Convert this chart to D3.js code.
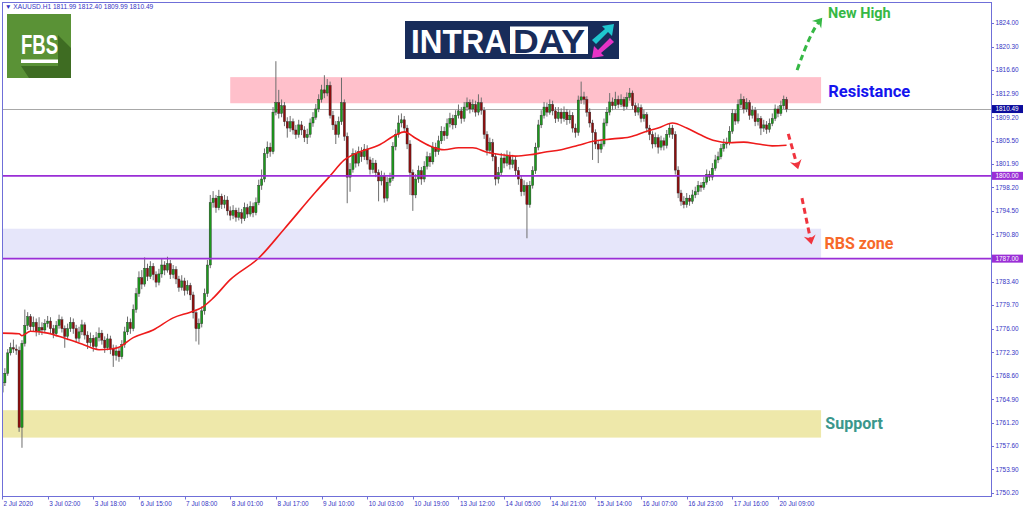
<!DOCTYPE html>
<html>
<head>
<meta charset="utf-8">
<script src="https://cdnjs.cloudflare.com/ajax/libs/d3/7.8.5/d3.min.js"></script>
<style>
  html, body { margin: 0; padding: 0; background: #fff; overflow: hidden; }
  svg { display: block; }
</style>
</head>
<body>
<svg id="chart" width="1024" height="511"></svg>
<script>
// XAUUSD H1, 2 Jul 2020 .. 20 Jul 2020
const SYMBOL = "XAUUSD.H1";
const firstOpen = 1766.0;
const closes = [
  1767.5, 1769.0, 1772.2, 1773.0, 1772.8, 1772.6, 1760.5, 1773.7, 1776.5, 1777.9,
  1776.3, 1777.0, 1775.5, 1776.2, 1775.8, 1776.8, 1777.2, 1776.0, 1775.2, 1776.5,
  1777.4, 1776.0, 1774.8, 1776.0, 1777.0, 1776.0, 1774.5, 1775.5, 1776.6, 1775.0,
  1773.8, 1774.5, 1773.2, 1774.6, 1775.3, 1774.2, 1773.0, 1774.4, 1772.8, 1771.8,
  1772.5, 1771.6, 1773.5, 1775.5, 1777.0, 1776.0, 1779.0, 1781.5, 1784.0, 1783.0,
  1785.5, 1784.2, 1785.8, 1784.5, 1783.3, 1784.6, 1786.0, 1785.2, 1786.2, 1784.5,
  1785.3, 1783.8, 1782.5, 1783.5, 1782.0, 1782.8, 1781.3, 1778.5, 1776.0, 1776.8,
  1778.8, 1781.5, 1786.0, 1795.8, 1796.5, 1795.0, 1796.8, 1795.5, 1796.2, 1794.5,
  1793.8, 1794.6, 1793.5, 1794.2, 1793.3, 1795.0, 1794.0, 1795.2, 1794.2, 1795.8,
  1798.5, 1799.5, 1803.5, 1804.5, 1803.8, 1810.0, 1811.5, 1809.8, 1811.0, 1808.5,
  1807.5, 1808.5, 1807.2, 1806.5, 1808.0, 1807.2, 1806.0, 1806.5, 1808.3, 1809.2,
  1810.5, 1812.0, 1813.5, 1813.0, 1814.2, 1809.5, 1808.0, 1806.5, 1808.5, 1811.5,
  1806.2, 1799.8, 1801.0, 1803.5, 1802.0, 1803.8, 1803.0, 1804.2, 1802.5, 1801.0,
  1802.0, 1800.5, 1799.2, 1800.0, 1796.5, 1799.0, 1799.6, 1804.6, 1806.5, 1808.3,
  1808.8, 1807.5, 1805.0, 1800.5, 1797.0, 1799.5, 1800.8, 1799.5, 1801.5, 1803.0,
  1802.2, 1804.5, 1803.8, 1805.5, 1807.0, 1806.3, 1808.2, 1809.0, 1808.0, 1809.5,
  1810.2, 1809.0, 1810.8, 1811.5, 1810.5, 1811.2, 1810.0, 1811.5, 1810.3, 1806.5,
  1804.0, 1805.2, 1803.0, 1799.5, 1800.5, 1802.8, 1802.0, 1803.2, 1801.8, 1802.5,
  1800.8, 1799.5, 1797.5, 1798.5, 1795.5, 1798.5, 1800.8, 1804.5, 1808.0, 1809.5,
  1810.8, 1810.0, 1811.2, 1810.2, 1809.0, 1810.0, 1809.0, 1810.0, 1808.8, 1809.5,
  1807.5, 1806.8, 1811.9, 1812.4, 1812.0, 1810.0, 1808.3, 1806.8, 1805.0, 1804.2,
  1805.0, 1808.3, 1810.0, 1811.6, 1811.0, 1812.0, 1811.2, 1812.0, 1810.9, 1812.3,
  1813.0, 1811.0, 1810.0, 1810.7, 1809.0, 1809.6, 1807.5, 1806.5, 1805.0, 1806.0,
  1804.5, 1805.5, 1804.8, 1806.5, 1807.5, 1806.5, 1800.9, 1797.3, 1796.0, 1795.5,
  1796.5, 1796.0, 1797.0, 1797.5, 1798.5, 1798.2, 1799.0, 1800.2, 1799.8, 1801.2,
  1802.5, 1803.0, 1804.3, 1805.0, 1805.2, 1807.0, 1809.8, 1808.6, 1811.2, 1812.0,
  1810.5, 1811.5, 1809.5, 1810.3, 1808.5, 1809.0, 1807.5, 1808.0, 1807.3, 1808.2,
  1809.0, 1810.5, 1809.8, 1811.0, 1811.99, 1810.49
];
const highs = [
  1768.5, 1769.8, 1772.8, 1773.8, 1774.3, 1773.5, 1773.2, 1774.2, 1779.0, 1778.6,
  1778.3, 1777.9, 1777.6, 1777.8, 1777.0, 1777.5, 1778.0, 1777.8, 1776.6, 1777.2,
  1778.2, 1777.9, 1776.5, 1776.8, 1777.8, 1777.6, 1776.6, 1776.3, 1777.4, 1777.0,
  1775.6, 1775.4, 1775.0, 1775.5, 1776.2, 1775.8, 1774.8, 1775.2, 1774.9, 1773.5,
  1773.4, 1773.0, 1774.2, 1776.3, 1777.9, 1777.6, 1779.8, 1782.4, 1785.0, 1785.2,
  1787.2, 1786.2, 1786.6, 1786.3, 1785.0, 1785.4, 1787.0, 1786.6, 1787.3, 1786.8,
  1786.0, 1785.8, 1784.3, 1784.4, 1784.0, 1783.6, 1783.2, 1781.8, 1779.0, 1777.6,
  1779.5, 1782.3, 1786.8, 1797.0, 1797.6, 1797.0, 1797.8, 1797.2, 1797.0, 1796.8,
  1795.2, 1795.4, 1795.0, 1795.0, 1794.8, 1795.8, 1795.6, 1796.0, 1795.8, 1796.6,
  1799.4, 1801.0, 1804.3, 1805.4, 1805.2, 1810.8, 1818.0, 1813.5, 1812.0, 1811.6,
  1809.2, 1809.4, 1809.0, 1808.0, 1808.8, 1808.6, 1807.8, 1807.4, 1809.0, 1810.0,
  1811.3, 1812.8, 1814.3, 1815.8, 1815.2, 1814.8, 1810.2, 1808.6, 1809.3, 1815.4,
  1812.0, 1806.8, 1802.0, 1804.3, 1804.0, 1804.6, 1804.5, 1805.0, 1804.8, 1803.0,
  1802.8, 1802.5, 1801.0, 1800.8, 1800.5, 1799.8, 1800.5, 1805.3, 1807.3, 1809.5,
  1809.8, 1809.4, 1808.0, 1805.6, 1801.0, 1800.3, 1801.6, 1801.4, 1802.3, 1803.8,
  1803.6, 1805.3, 1805.2, 1806.3, 1807.8, 1807.7, 1809.0, 1809.9, 1809.6, 1810.3,
  1811.2, 1810.8, 1811.6, 1812.3, 1812.0, 1812.0, 1811.8, 1812.8, 1812.3, 1810.8,
  1807.0, 1806.0, 1805.8, 1803.5, 1801.4, 1803.6, 1803.5, 1804.0, 1803.8, 1803.3,
  1803.0, 1801.4, 1800.0, 1799.3, 1799.0, 1799.2, 1801.5, 1805.2, 1808.8, 1810.3,
  1811.6, 1811.5, 1812.0, 1811.8, 1810.8, 1810.8, 1810.6, 1810.9, 1810.5, 1810.3,
  1810.0, 1808.2, 1812.6, 1814.8, 1813.2, 1812.5, 1810.6, 1808.8, 1807.3, 1805.6,
  1805.8, 1809.0, 1810.8, 1813.0, 1812.3, 1813.2, 1812.6, 1812.8, 1812.4, 1813.1,
  1813.8, 1813.4, 1811.5, 1811.4, 1811.2, 1810.4, 1810.0, 1808.0, 1807.0, 1806.8,
  1806.5, 1806.3, 1806.0, 1807.2, 1808.2, 1808.0, 1807.0, 1801.5, 1797.8, 1796.8,
  1797.3, 1797.0, 1797.8, 1798.3, 1799.2, 1799.0, 1799.8, 1801.0, 1800.8, 1802.0,
  1803.3, 1803.8, 1805.0, 1805.8, 1806.0, 1807.8, 1810.5, 1810.4, 1812.0, 1812.9,
  1812.5, 1812.2, 1811.9, 1811.0, 1810.8, 1809.8, 1809.4, 1808.8, 1808.6, 1809.0,
  1809.8, 1811.2, 1811.0, 1811.8, 1812.6, 1812.40
];
const lows = [
  1765.2, 1767.0, 1768.6, 1771.8, 1772.2, 1771.9, 1759.8, 1757.3, 1773.2, 1775.8,
  1775.6, 1775.5, 1774.8, 1775.0, 1775.0, 1775.3, 1776.2, 1775.2, 1774.5, 1774.8,
  1776.0, 1775.4, 1773.0, 1774.2, 1775.5, 1775.2, 1773.8, 1773.9, 1775.0, 1774.3,
  1772.8, 1773.2, 1772.4, 1772.8, 1774.0, 1773.5, 1772.2, 1772.6, 1772.0, 1770.0,
  1771.0, 1770.8, 1771.2, 1773.0, 1775.0, 1775.2, 1775.6, 1778.5, 1781.0, 1782.2,
  1782.6, 1783.5, 1783.8, 1783.6, 1782.5, 1782.8, 1784.0, 1784.4, 1784.8, 1783.8,
  1783.9, 1783.0, 1781.8, 1782.0, 1781.2, 1781.4, 1780.5, 1777.6, 1774.0, 1773.5,
  1776.2, 1778.2, 1781.0, 1785.5, 1795.0, 1794.2, 1794.6, 1794.8, 1794.9, 1793.8,
  1793.0, 1793.2, 1792.8, 1793.0, 1792.5, 1792.9, 1793.4, 1793.6, 1793.5, 1793.8,
  1795.4, 1797.8, 1799.0, 1802.8, 1803.0, 1803.4, 1809.5, 1809.0, 1809.2, 1807.8,
  1806.0, 1806.9, 1806.5, 1805.8, 1806.0, 1806.4, 1805.3, 1805.0, 1806.0, 1807.7,
  1808.8, 1810.0, 1811.5, 1812.2, 1812.5, 1809.0, 1807.2, 1805.0, 1806.0, 1808.0,
  1805.5, 1795.7, 1797.5, 1800.5, 1801.3, 1801.5, 1802.2, 1802.5, 1801.8, 1800.2,
  1800.4, 1799.8, 1796.0, 1798.5, 1795.8, 1796.0, 1798.4, 1799.2, 1804.0, 1806.0,
  1807.6, 1806.8, 1804.2, 1797.0, 1794.5, 1796.5, 1798.9, 1798.6, 1799.0, 1801.0,
  1801.4, 1801.8, 1803.0, 1803.3, 1805.0, 1805.5, 1805.8, 1807.6, 1807.3, 1807.5,
  1809.0, 1808.2, 1808.5, 1810.2, 1809.8, 1810.0, 1809.3, 1809.5, 1809.6, 1805.8,
  1803.2, 1803.5, 1802.3, 1798.5, 1798.8, 1800.0, 1801.2, 1801.5, 1801.0, 1801.2,
  1800.0, 1798.6, 1796.8, 1796.9, 1790.2, 1795.0, 1798.0, 1800.3, 1804.0, 1807.5,
  1809.0, 1809.3, 1809.6, 1809.5, 1808.3, 1808.5, 1808.2, 1808.5, 1808.0, 1808.2,
  1806.8, 1806.0, 1806.3, 1811.3, 1811.2, 1809.3, 1807.6, 1802.5, 1804.2, 1802.0,
  1803.6, 1804.6, 1807.8, 1809.5, 1810.3, 1810.5, 1810.6, 1810.8, 1810.2, 1810.5,
  1811.8, 1810.4, 1809.4, 1809.5, 1808.4, 1808.5, 1806.8, 1805.6, 1804.3, 1804.5,
  1803.5, 1804.0, 1804.0, 1804.3, 1806.0, 1805.8, 1800.2, 1796.5, 1795.3, 1794.9,
  1795.0, 1795.3, 1795.6, 1796.5, 1797.0, 1797.5, 1797.8, 1798.6, 1799.2, 1799.3,
  1800.8, 1802.0, 1802.6, 1803.8, 1804.3, 1804.8, 1806.6, 1808.0, 1808.2, 1810.6,
  1809.8, 1810.0, 1808.8, 1809.0, 1807.8, 1807.9, 1806.4, 1806.9, 1806.6, 1806.8,
  1807.8, 1808.6, 1809.2, 1809.4, 1810.5, 1809.99
];

// red moving average, read at sample bars
const maBars = [0, 6, 7, 10, 16, 22, 28, 34, 38, 41, 46, 53, 60, 66, 70, 74, 80, 90, 99, 110,
  115, 120, 125, 132, 138, 141, 145, 150, 155, 160, 165, 170, 175, 180, 185, 190, 196, 202,
  208, 214, 220, 226, 230, 235, 240, 245, 250, 255, 260, 265, 270, 275];
const maValues = [1775.3, 1775.2, 1774.9, 1775.6, 1775.3, 1774.5, 1773.6, 1772.7, 1772.8, 1773.1,
  1774.6, 1775.8, 1777.7, 1778.6, 1779.3, 1780.8, 1783.7, 1787.1, 1791.7, 1797.5,
  1800.0, 1802.5, 1803.7, 1804.8, 1806.4, 1806.9, 1805.9, 1804.7, 1804.1, 1804.4, 1804.4,
  1803.7, 1803.3, 1803.1, 1803.3, 1803.7, 1804.1, 1804.8, 1805.5, 1805.8, 1806.1, 1807.0,
  1807.5, 1808.3, 1807.5, 1806.4, 1805.5, 1805.2, 1805.3, 1805.0, 1804.7, 1804.8];

const timeTickBars = [0, 16, 32, 48, 64, 80, 96, 112, 128, 144, 160, 176, 192, 208, 224, 240, 256, 272];
const timeTickLabels = ["2 Jul 2020", "3 Jul 02:00", "3 Jul 18:00", "6 Jul 15:00", "7 Jul 08:00",
  "8 Jul 01:00", "8 Jul 17:00", "9 Jul 10:00", "10 Jul 03:00", "10 Jul 19:00", "13 Jul 12:00",
  "14 Jul 05:00", "14 Jul 21:00", "15 Jul 14:00", "16 Jul 07:00", "16 Jul 23:00",
  "17 Jul 16:00", "20 Jul 09:00"];
const priceTicks = [1824.00, 1820.30, 1816.60, 1812.90, 1809.20, 1805.50, 1801.90, 1798.20,
  1794.50, 1790.80, 1783.40, 1779.70, 1776.00, 1772.30, 1768.60, 1764.90, 1761.20, 1757.60,
  1753.90, 1750.20];

// horizontal levels: bid line + two drawn lines
const levelPrices = [1810.49, 1800.00, 1787.00];
const levelKinds = ["bid", "line", "line"];

// shaded zones (start bar, end bar, top, bottom)
const zoneNames = ["Resistance", "RBS zone", "Support"];
const zoneStart = [80, -3, -3];
const zoneEnd = [287.1, 287.1, 287.1];
const zoneTop = [1815.5, 1791.7, 1763.2];
const zoneBottom = [1811.4, 1787.1, 1758.9];
const zoneColors = ["#ffc0cb", "#e6e6fa", "#eee8aa"];

// annotation labels (bar, price of baseline)
const noteTexts = ["New High", "Resistance", "RBS zone", "Support"];
const noteBars = [289.5, 289.6, 288.3, 288.6];
const notePrices = [1824.85, 1812.35, 1788.45, 1760.2];
const noteColors = ["#36b845", "#1414ee", "#f7692a", "#3a978c"];
const noteSizes = [14.5, 16.5, 16, 16];

(function drawChart() {
  const svg = d3.select("#chart");
  const PLOT = { left: 2, right: 991, top: 2, bottom: 496 };
  const AXIS_COLOR = "#6f6fd8";
  const TEXT_COLOR = "#3434c4";
  const FONT = "'Liberation Sans', Arial, sans-serif";

  const x = d3.scaleLinear().domain([0, 272]).range([2, 778]);
  const y = d3.scaleLinear().domain([1750.2, 1824]).range([493, 23]);

  const bars = closes.map((c, i) => ({
    i,
    o: i === 0 ? firstOpen : closes[i - 1],
    h: highs[i],
    l: lows[i],
    c
  }));

  svg.append("rect").attr("width", 1024).attr("height", 511).attr("fill", "#fff");

  svg.append("clipPath").attr("id", "plot-clip").append("rect")
    .attr("x", PLOT.left).attr("y", PLOT.top)
    .attr("width", PLOT.right - PLOT.left).attr("height", PLOT.bottom - PLOT.top);

  const plot = svg.append("g").attr("clip-path", "url(#plot-clip)");

  // zones behind everything
  plot.selectAll("rect.zone").data(zoneNames).join("rect")
    .attr("class", "zone")
    .attr("x", (d, k) => x(zoneStart[k]))
    .attr("width", (d, k) => x(zoneEnd[k]) - x(zoneStart[k]))
    .attr("y", (d, k) => y(zoneTop[k]))
    .attr("height", (d, k) => y(zoneBottom[k]) - y(zoneTop[k]))
    .attr("fill", (d, k) => zoneColors[k]);

  // bid line
  plot.selectAll("line.bid").data(levelPrices.filter((p, k) => levelKinds[k] === "bid")).join("line")
    .attr("class", "bid")
    .attr("x1", PLOT.left).attr("x2", PLOT.right)
    .attr("y1", d => Math.round(y(d)) + 0.5).attr("y2", d => Math.round(y(d)) + 0.5)
    .attr("stroke", "#a8a8a8").attr("stroke-width", 1);

  // candles
  const candle = plot.append("g").selectAll("g").data(bars).join("g");
  candle.append("line")
    .attr("x1", d => x(d.i)).attr("x2", d => x(d.i))
    .attr("y1", d => y(Math.max(d.h, d.o, d.c))).attr("y2", d => y(Math.min(d.l, d.o, d.c)))
    .attr("stroke", "#6e6e6e").attr("stroke-width", 1);
  candle.append("rect")
    .attr("x", d => x(d.i) - 1.1)
    .attr("width", 2.2)
    .attr("y", d => y(Math.max(d.o, d.c)))
    .attr("height", d => Math.max(0.8, Math.abs(y(d.o) - y(d.c))))
    .attr("fill", d => d.c >= d.o ? "#1c9a1c" : "#8e0e0e")
    .attr("stroke", "#2a2a2a").attr("stroke-width", 0.4);

  // moving average
  const maLine = d3.line().x(d => x(d[0])).y(d => y(d[1])).curve(d3.curveMonotoneX);
  plot.append("path")
    .datum(maBars.map((b, k) => [b, maValues[k]]))
    .attr("d", maLine)
    .attr("fill", "none").attr("stroke", "#ee1b1b").attr("stroke-width", 1.6);

  // purple horizontal lines
  plot.selectAll("line.level").data(levelPrices.filter((p, k) => levelKinds[k] === "line")).join("line")
    .attr("class", "level")
    .attr("x1", PLOT.left).attr("x2", PLOT.right)
    .attr("y1", d => y(d)).attr("y2", d => y(d))
    .attr("stroke", "#9a2ed6").attr("stroke-width", 1.8);

  // frame
  svg.append("rect")
    .attr("x", PLOT.left + 0.5).attr("y", PLOT.top + 0.5)
    .attr("width", PLOT.right - PLOT.left).attr("height", PLOT.bottom - PLOT.top)
    .attr("fill", "none").attr("stroke", AXIS_COLOR).attr("stroke-width", 1);

  // price axis
  const yAxis = svg.append("g");
  yAxis.selectAll("line").data(priceTicks).join("line")
    .attr("x1", PLOT.right).attr("x2", PLOT.right + 3)
    .attr("y1", d => Math.round(y(d)) + 0.5).attr("y2", d => Math.round(y(d)) + 0.5)
    .attr("stroke", AXIS_COLOR);
  yAxis.selectAll("text").data(priceTicks).join("text")
    .attr("x", PLOT.right + 4.5).attr("y", d => y(d) + 2.3)
    .attr("font-family", FONT).attr("font-size", 6.4).attr("fill", TEXT_COLOR)
    .text(d => d.toFixed(2));

  // level price tags
  const tagColors = { bid: "#0c0c9c", line: "#9a2ed6" };
  const tags = svg.append("g").selectAll("g").data(levelPrices).join("g");
  tags.append("rect")
    .attr("x", PLOT.right + 1).attr("y", d => y(d) - 4)
    .attr("width", 31).attr("height", 8)
    .attr("fill", (d, k) => tagColors[levelKinds[k]]);
  tags.append("text")
    .attr("x", PLOT.right + 4.5).attr("y", d => y(d) + 2.3)
    .attr("font-family", FONT).attr("font-size", 6.4).attr("fill", "#fff")
    .text(d => d.toFixed(2));

  // time axis
  const xAxis = svg.append("g");
  xAxis.selectAll("line").data(timeTickBars).join("line")
    .attr("x1", d => Math.round(x(d)) + 0.5).attr("x2", d => Math.round(x(d)) + 0.5)
    .attr("y1", PLOT.bottom).attr("y2", PLOT.bottom + 3.5)
    .attr("stroke", AXIS_COLOR);
  xAxis.selectAll("text").data(timeTickBars).join("text")
    .attr("x", d => x(d) + 1.5).attr("y", PLOT.bottom + 9.5)
    .attr("font-family", FONT).attr("font-size", 6.4).attr("fill", TEXT_COLOR)
    .text((d, k) => timeTickLabels[k]);

  // header
  const last = bars[bars.length - 1];
  svg.append("text")
    .attr("x", 5).attr("y", 9.3)
    .attr("font-family", FONT).attr("font-size", 6.6).attr("fill", TEXT_COLOR)
    .text(`\u25BC ${SYMBOL}  ${last.o.toFixed(2)} ${last.h.toFixed(2)} ${last.l.toFixed(2)} ${last.c.toFixed(2)}`);

  // FBS logo
  const fbs = svg.append("g").attr("transform", "translate(7,14)");
  fbs.append("rect").attr("width", 64).attr("height", 64).attr("fill", "#5a9236");
  fbs.append("path").attr("d", "M51,21 L64,34 L64,64 L22,64 L14,52 L51,52 Z").attr("fill", "#3e6c22");
  fbs.append("text").attr("x", 14).attr("y", 39.5)
    .attr("font-family", FONT).attr("font-weight", 700).attr("font-size", 28)
    .attr("textLength", 37).attr("lengthAdjust", "spacingAndGlyphs")
    .attr("fill", "#fff").text("FBS");
  fbs.append("rect").attr("x", 14).attr("y", 45.5).attr("width", 37).attr("height", 3.5).attr("fill", "#fff");

  // INTRADAY logo
  const logo = svg.append("g");
  logo.append("rect").attr("x", 405).attr("y", 21).attr("width", 214).attr("height", 38).attr("fill", "#182c5a");
  logo.append("text").attr("x", 411).attr("y", 52.5)
    .attr("font-family", FONT).attr("font-weight", 700).attr("font-size", 33)
    .attr("textLength", 96).attr("lengthAdjust", "spacingAndGlyphs")
    .attr("fill", "#fff").text("INTRA");
  logo.append("rect").attr("x", 510).attr("y", 26.5).attr("width", 78).attr("height", 27.5).attr("fill", "#fff");
  logo.append("text").attr("x", 513).attr("y", 52.5)
    .attr("font-family", FONT).attr("font-weight", 700).attr("font-size", 33)
    .attr("textLength", 72).attr("lengthAdjust", "spacingAndGlyphs")
    .attr("fill", "#182c5a").text("DAY");
  logo.append("path").attr("d", "M592,40 L596,44 L608,32 L612,36 L614,24 L602,26 L605,29 Z").attr("fill", "#1fc6cf");
  logo.append("path").attr("d", "M614,42 L610,38 L598,50 L594,46 L592,58 L604,56 L601,53 Z").attr("fill", "#e633c6");

  // dashed arrows
  function arrow(points, color, curved) {
    const p = points.map(d => [x(d[0]), y(d[1])]);
    const path = d3.path();
    path.moveTo(p[0][0], p[0][1]);
    if (curved) path.quadraticCurveTo(p[1][0], p[1][1], p[2][0], p[2][1]);
    else path.lineTo(p[1][0], p[1][1]);
    svg.append("path").attr("d", path.toString())
      .attr("fill", "none").attr("stroke", color).attr("stroke-width", 3)
      .attr("stroke-dasharray", "6,4");
    const tip = p[p.length - 1], prev = p[p.length - 2];
    const ang = Math.atan2(tip[1] - prev[1], tip[0] - prev[0]);
    const head = [[5, 0], [-4, -6], [-1, 0], [-4, 6]].map(([a, b]) => [
      tip[0] + a * Math.cos(ang) - b * Math.sin(ang),
      tip[1] + a * Math.sin(ang) + b * Math.cos(ang)
    ]);
    svg.append("path").attr("d", "M" + head.join("L") + "Z").attr("fill", color);
  }
  arrow([[278.7, 1816.6], [283.3, 1822.5], [286.4, 1824.2]], "#36b845", true);
  arrow([[275.6, 1806.6], [278.6, 1801.8]], "#f0343e", false);
  arrow([[280.4, 1796.5], [283.4, 1790.0]], "#f0343e", false);

  // annotation labels
  svg.append("g").selectAll("text").data(noteTexts).join("text")
    .attr("x", (d, k) => x(noteBars[k]))
    .attr("y", (d, k) => y(notePrices[k]))
    .attr("font-family", "Roboto, 'Open Sans', sans-serif").attr("font-weight", 700)
    .attr("font-size", (d, k) => noteSizes[k])
    .attr("fill", (d, k) => noteColors[k])
    .text(d => d);
})();
</script>
</body>
</html>
